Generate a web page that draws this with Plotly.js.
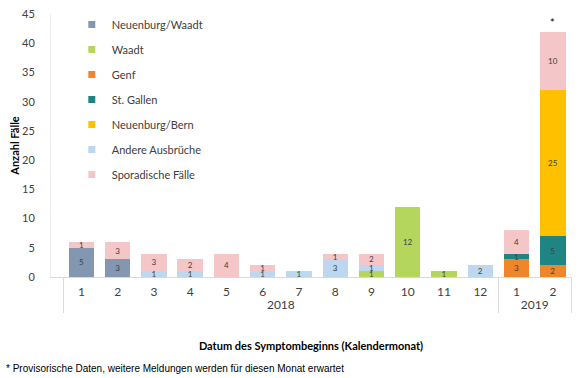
<!DOCTYPE html>
<html><head><meta charset="utf-8">
<script src="https://cdn.plot.ly/plotly-3.0.1.min.js"></script>
<style>body{margin:0;background:#fff}#c{width:582px;height:378px}</style>
</head><body><div id="c"></div>
<script>
const years = ["2018","2018","2018","2018","2018","2018","2018","2018","2018","2018","2018","2018","2019","2019"];
const months = ["1","2","3","4","5","6","7","8","9","10","11","12","1","2"];
const seriesNames = ["Neuenburg/Waadt","Waadt","Genf","St. Gallen","Neuenburg/Bern","Andere Ausbrüche","Sporadische Fälle"];
const neuenburgWaadt = [5,3,0,0,0,0,0,0,0,0,0,0,0,0];
const waadt          = [0,0,0,0,0,0,0,0,1,12,1,0,0,0];
const genf           = [0,0,0,0,0,0,0,0,0,0,0,0,3,2];
const stGallen       = [0,0,0,0,0,0,0,0,0,0,0,0,1,5];
const neuenburgBern  = [0,0,0,0,0,0,0,0,0,0,0,0,0,25];
const andere         = [0,0,1,1,0,1,1,3,1,0,0,2,0,0];
const sporadisch     = [1,3,3,2,4,1,0,1,2,0,0,0,4,10];
const allSeries = [neuenburgWaadt,waadt,genf,stGallen,neuenburgBern,andere,sporadisch];
const colors = ["#8497b0","#b5d65c","#ef862b","#1f8583","#ffc000","#bdd7ee","#f5c6c7"];
const yTicks = [0,5,10,15,20,25,30,35,40,45];

const font = "Lato, 'Open Sans', sans-serif";
const traces = allSeries.map((vals,i)=>({
  type:"bar",
  name: seriesNames[i],
  legendgroup:"g"+i,
  showlegend:false,
  x:[years, months],
  y: vals.map(v=>v===0?null:v),
  text: vals.map(v=>v===0?"":String(v)),
  textposition:"inside",
  insidetextanchor:"middle",
  textangle:0,
  textfont:{family:font,size:8,color:"#404040"},
  constraintext:"none",
  marker:{color:colors[i]},
  hoverinfo:"none"
}));
const legendTraces = seriesNames.map((n,i)=>({
  type:"scatter",mode:"markers",name:n,legendgroup:"g"+i,
  x:[[years[0]],[months[0]]],y:[null],
  marker:{symbol:"square",size:7,color:colors[i]},hoverinfo:"none"
}));

const layout = {
  width:582, height:378,
  margin:{l:51,r:11,t:10,b:101},
  barmode:"stack",
  bargap:0.3,
  showlegend:true,
  legend:{x:0.04,y:1.015,xanchor:"left",yanchor:"top",traceorder:"grouped",
    font:{family:font,size:11,color:"#404040"},itemwidth:30,tracegroupgap:6,
    bgcolor:"rgba(0,0,0,0)"},
  font:{family:font,size:11,color:"#404040"},
  xaxis:{type:"multicategory",automargin:false,showline:true,linecolor:"#d9d9d9",linewidth:1,
    showgrid:false,ticks:"",showdividers:true,dividercolor:"#d9d9d9",dividerwidth:1,
    ticklabelstandoff:4,
    tickfont:{family:font,size:12,color:"#404040"},
    title:{text:"<b>Datum des Symptombeginns (Kalendermonat)</b>",font:{family:font,size:11,color:"#000"},standoff:30}},
  yaxis:{range:[0,45],automargin:false,tickvals:yTicks,ticksuffix:"\u00a0\u00a0\u00a0",showgrid:false,showline:true,linecolor:"#eeeeee",
    zeroline:false,ticks:"outside",ticklen:13,tickcolor:"rgba(0,0,0,0)",tickfont:{family:font,size:11,color:"#404040"},
    title:{text:"<b>Anzahl Fälle</b>",font:{family:font,size:11,color:"#000"},standoff:0}},
  annotations:[
    {xref:"x",yref:"y",x:13,y:42,text:"*",showarrow:false,yanchor:"bottom",yshift:1,font:{family:font,size:11,color:"#000"}},
    {xref:"paper",yref:"paper",x:-0.09,xanchor:"left",y:0,yanchor:"top",yshift:-84,
     text:"* Provisorische Daten, weitere Meldungen werden für diesen Monat erwartet",showarrow:false,
     font:{family:"'Liberation Sans', Arial, sans-serif",size:10,color:"#000"}}
  ],
  paper_bgcolor:"#fff",plot_bgcolor:"#fff"
};
Plotly.newPlot("c",traces.concat(legendTraces),layout,{displayModeBar:false,staticPlot:true});
</script></body></html>
